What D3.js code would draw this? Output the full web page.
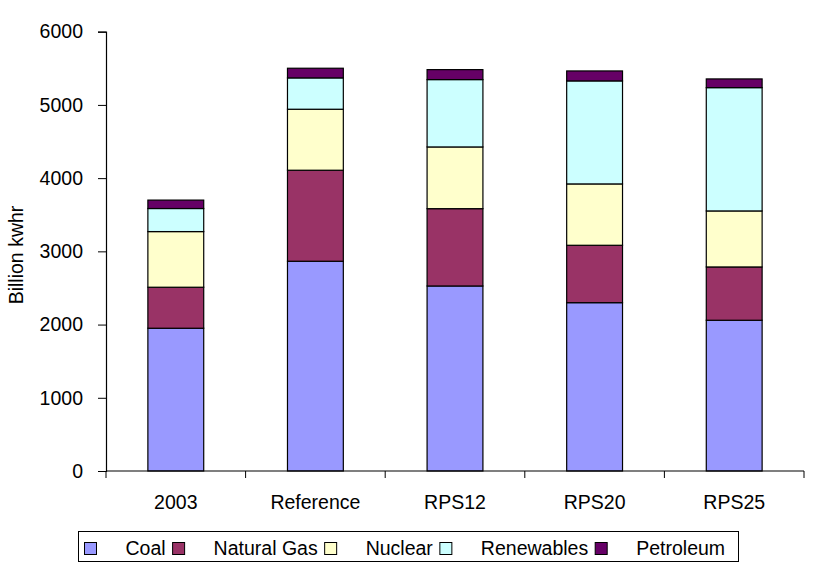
<!DOCTYPE html>
<html>
<head>
<meta charset="utf-8">
<script src="https://cdn.jsdelivr.net/npm/d3@7"></script>
<style>
  html, body { margin: 0; padding: 0; background: #fff; }
  svg { display: block; }
  text { font-family: "Liberation Sans", Arial, sans-serif; fill: #000; }
</style>
</head>
<body>
<svg id="chart" width="822" height="562"></svg>
<script>
const categories = ["2003", "Reference", "RPS12", "RPS20", "RPS25"];
const seriesNames = ["Coal", "Natural Gas", "Nuclear", "Renewables", "Petroleum"];
const coal       = [1950, 2865, 2527, 2299, 2059];
const naturalGas = [560, 1243, 1056, 784, 728];
const nuclear    = [760, 833, 843, 838, 765];
const renewables = [315, 428, 920, 1407, 1684];
const petroleum  = [115, 132, 136, 136, 119];
const yTicks = [0, 1000, 2000, 3000, 4000, 5000, 6000];
const colors = ["#9999FF", "#993366", "#FFFFCC", "#CCFFFF", "#660066"];
const yTitle = "Billion kwhr";

const seriesValues = [coal, naturalGas, nuclear, renewables, petroleum];
const table = categories.map((c, i) => {
  const row = { category: c };
  seriesNames.forEach((s, j) => row[s] = seriesValues[j][i]);
  return row;
});

const svg = d3.select("#chart");
const FONT = 19.5;

const x = d3.scaleBand().domain(categories).range([106, 804]).paddingInner(0.6).paddingOuter(0.3);
const y = d3.scaleLinear().domain([0, 6000]).range([471, 31.7]);

const stack = d3.stack().keys(seriesNames);
const stacked = stack(table);

// bars
const g = svg.append("g");
g.selectAll("g.series").data(stacked).join("g")
  .attr("class", "series")
  .attr("fill", (d, i) => colors[i])
  .selectAll("rect").data(d => d).join("rect")
  .attr("x", d => x(d.data.category))
  .attr("width", x.bandwidth())
  .attr("y", d => y(d[1]))
  .attr("height", d => y(d[0]) - y(d[1]))
  .attr("stroke", "#000")
  .attr("stroke-width", 1.2);

// y axis
const yAxis = d3.axisLeft(y).tickValues(yTicks).tickSize(8).tickPadding(15).tickFormat(d3.format("d"));
const ya = svg.append("g").attr("transform", "translate(106,0)").call(yAxis);
ya.select(".domain").attr("stroke", "#000").attr("stroke-width", 1.2);
ya.selectAll(".tick line").attr("stroke", "#000");
ya.selectAll(".tick text").style("font-size", FONT + "px").style("font-family", "'Liberation Sans', Arial, sans-serif");

// x axis: baseline with ticks between categories
const xa = svg.append("g");
xa.append("line").attr("x1", 106).attr("x2", 804).attr("y1", y(0)).attr("y2", y(0))
  .attr("stroke", "#000").attr("stroke-width", 1.2);
const step = x.step();
const boundaries = d3.range(categories.length + 1).map(i => x.range()[0] + i * step);
xa.selectAll("line.tk").data(boundaries).join("line").attr("class", "tk")
  .attr("x1", d => d).attr("x2", d => d)
  .attr("y1", y(0)).attr("y2", y(0) + 7)
  .attr("stroke", "#000");
xa.selectAll("text").data(categories).join("text")
  .attr("x", d => x(d) + x.bandwidth() / 2)
  .attr("y", 509)
  .attr("text-anchor", "middle")
  .style("font-size", FONT + "px")
  .text(d => d);

// y title
svg.append("text")
  .attr("transform", "translate(23,255) rotate(-90)")
  .attr("text-anchor", "middle")
  .style("font-size", FONT + "px")
  .text(yTitle);

// legend
const leg = svg.append("g");
leg.append("rect").attr("x", 78.5).attr("y", 531.5).attr("width", 660).attr("height", 30)
  .attr("fill", "#fff").attr("stroke", "#000").attr("stroke-width", 1);
let cx = 84.5;
seriesNames.forEach((s, i) => {
  leg.append("rect").attr("x", cx).attr("y", 542.5).attr("width", 12).attr("height", 12)
    .attr("fill", colors[i]).attr("stroke", "#000").attr("stroke-width", 1);
  cx += 12 + 29;
  const t = leg.append("text").attr("x", cx).attr("y", 555).style("font-size", FONT + "px").text(s);
  cx += t.node().getComputedTextLength() + 7;
});
</script>
</body>
</html>
